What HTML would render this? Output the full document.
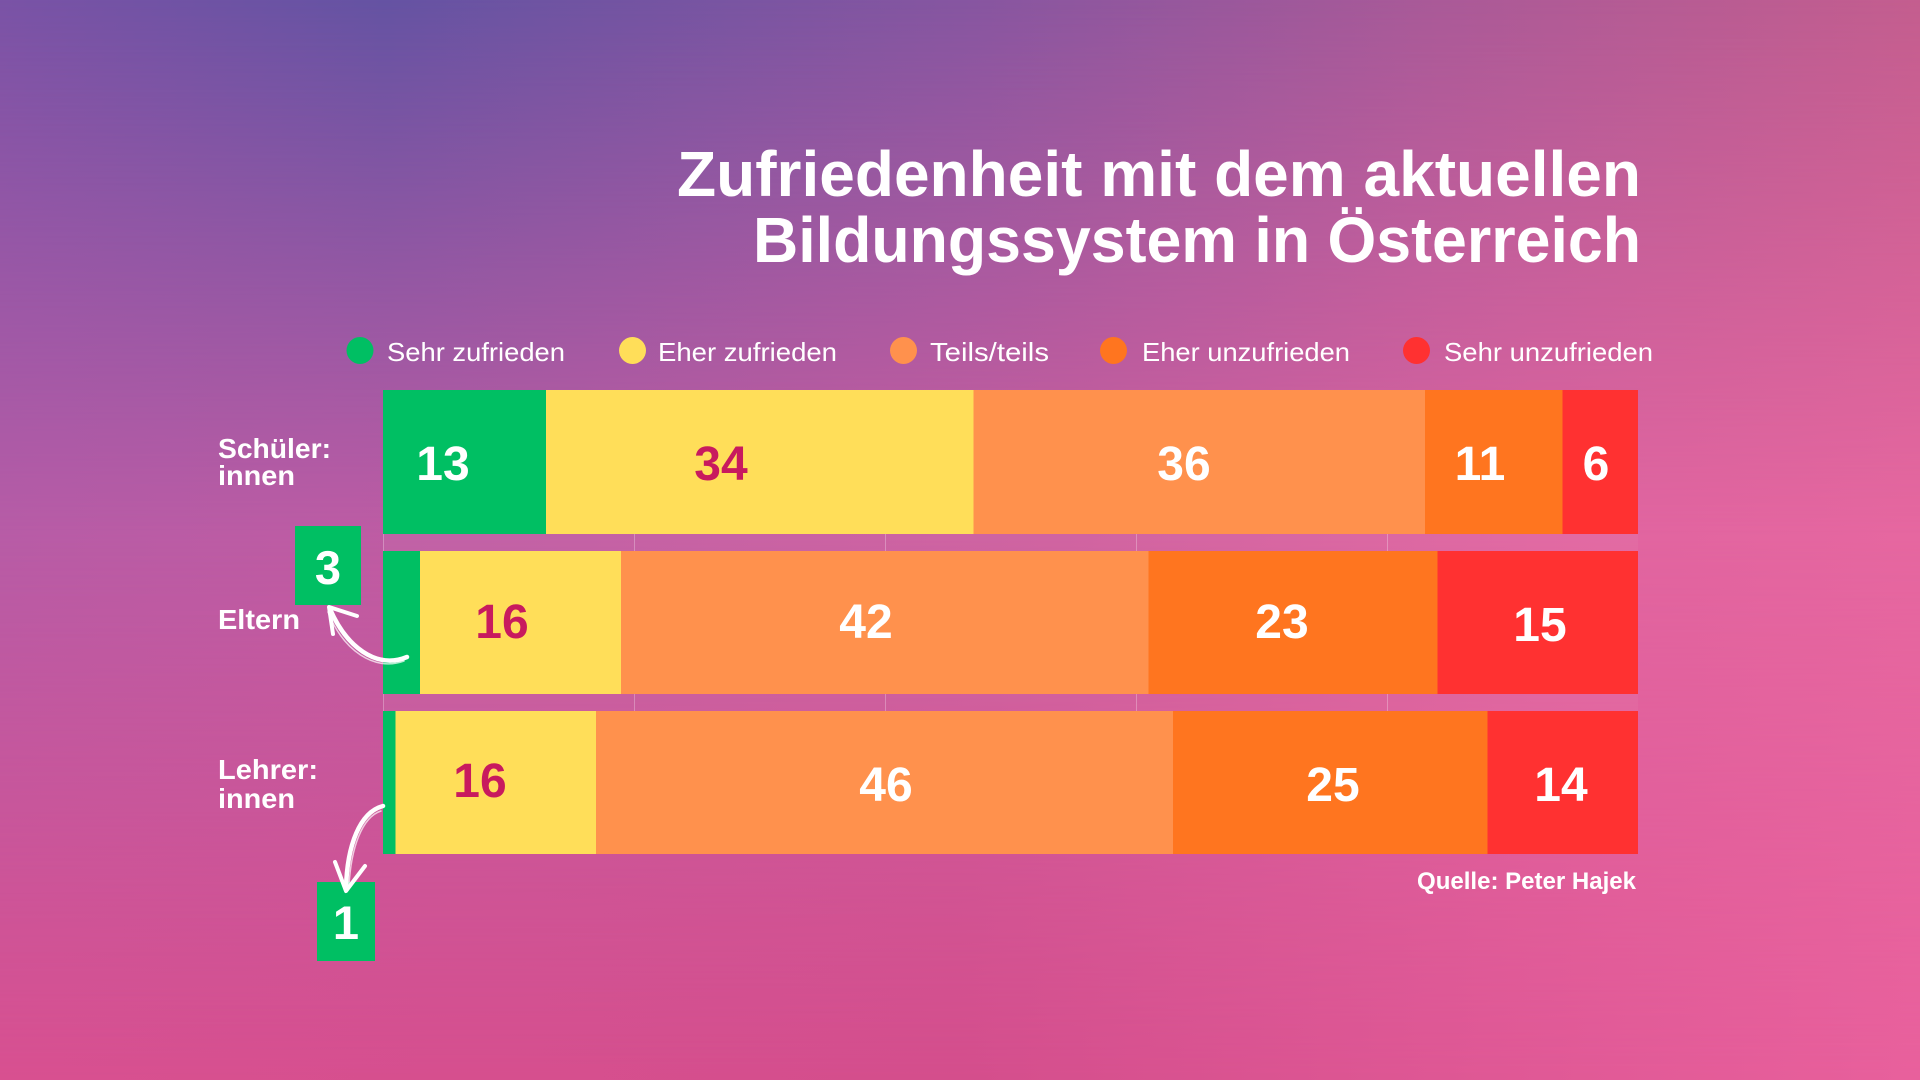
<!DOCTYPE html>
<html>
<head>
<meta charset="utf-8">
<style>
  html, body { margin:0; padding:0; width:1920px; height:1080px; overflow:hidden; }
  body { position:relative; font-family:"Liberation Sans", Arial, sans-serif; }
  .bg { position:absolute; left:0; top:0; width:1920px; height:1080px; }
  .bg1 { background: linear-gradient(90deg, #7a53a6 0%, #6553a3 20%, #8656a1 50%, #aa5a98 75%, #c45e8f 100%); }
  .bg2 { background: linear-gradient(90deg, #b85ca6 0%, #c25ca2 30%, #cf5e9e 55%, #e064a0 80%, #e667a0 100%);
         -webkit-mask-image: linear-gradient(180deg, transparent 0%, #000 50%, #000 100%);
         mask-image: linear-gradient(180deg, transparent 0%, #000 50%, #000 100%); }
  .bg3 { background: linear-gradient(90deg, #d85090 0%, #d44e8c 50%, #e8609c 100%);
         -webkit-mask-image: linear-gradient(180deg, transparent 50%, #000 100%);
         mask-image: linear-gradient(180deg, transparent 50%, #000 100%); }
  svg { position:absolute; left:0; top:0; }
  text { font-family:"Liberation Sans", Arial, sans-serif; }
</style>
</head>
<body>
<div class="bg bg1"></div>
<div class="bg bg2"></div>
<div class="bg bg3"></div>
<svg width="1920" height="1080" viewBox="0 0 1920 1080" xmlns="http://www.w3.org/2000/svg">
  <!-- Title -->
  <g fill="#ffffff" font-weight="bold" font-size="64">
    <text x="1641" y="196" text-anchor="end" textLength="964" lengthAdjust="spacingAndGlyphs">Zufriedenheit mit dem aktuellen</text>
    <text x="1641" y="262" text-anchor="end" textLength="888" lengthAdjust="spacingAndGlyphs">Bildungssystem in Österreich</text>
  </g>

  <!-- Legend -->
  <g>
    <circle cx="360" cy="350.5" r="13.5" fill="#00bf63"/>
    <circle cx="632.5" cy="350.5" r="13.5" fill="#ffde59"/>
    <circle cx="903.5" cy="350.5" r="13.5" fill="#ff914d"/>
    <circle cx="1113.5" cy="350.5" r="13.5" fill="#ff751f"/>
    <circle cx="1416.5" cy="350.5" r="13.5" fill="#ff3131"/>
  </g>
  <g fill="#ffffff" font-size="26">
    <text x="387" y="361" textLength="178" lengthAdjust="spacingAndGlyphs">Sehr zufrieden</text>
    <text x="658" y="361" textLength="179" lengthAdjust="spacingAndGlyphs">Eher zufrieden</text>
    <text x="930" y="361" textLength="119" lengthAdjust="spacingAndGlyphs">Teils/teils</text>
    <text x="1142" y="361" textLength="208" lengthAdjust="spacingAndGlyphs">Eher unzufrieden</text>
    <text x="1444" y="361" textLength="209" lengthAdjust="spacingAndGlyphs">Sehr unzufrieden</text>
  </g>

  <!-- plot area tint -->
  <rect x="383" y="390" width="1255" height="464" fill="#ffffff" fill-opacity="0.04"/>

  <!-- gridlines -->
  <g stroke="#ffffff" stroke-opacity="0.28" stroke-width="1">
    <line x1="383.5" y1="390" x2="383.5" y2="854"/>
    <line x1="634.5" y1="390" x2="634.5" y2="854"/>
    <line x1="885.5" y1="390" x2="885.5" y2="854"/>
    <line x1="1136.5" y1="390" x2="1136.5" y2="854"/>
    <line x1="1387.5" y1="390" x2="1387.5" y2="854"/>
  </g>

  <!-- Row 1: Schüler:innen -->
  <rect x="383" y="390" width="163" height="144" fill="#00bf63"/>
  <rect x="546" y="390" width="427.5" height="144" fill="#ffde59"/>
  <rect x="973.5" y="390" width="451.5" height="144" fill="#ff914d"/>
  <rect x="1425" y="390" width="137.5" height="144" fill="#ff751f"/>
  <rect x="1562.5" y="390" width="75.5" height="144" fill="#ff3131"/>

  <!-- Row 2: Eltern -->
  <rect x="383" y="551" width="37" height="143" fill="#00bf63"/>
  <rect x="420" y="551" width="201" height="143" fill="#ffde59"/>
  <rect x="621" y="551" width="527.5" height="143" fill="#ff914d"/>
  <rect x="1148.5" y="551" width="289" height="143" fill="#ff751f"/>
  <rect x="1437.5" y="551" width="200.5" height="143" fill="#ff3131"/>

  <!-- Row 3: Lehrer:innen -->
  <rect x="383" y="711" width="12.5" height="143" fill="#00bf63"/>
  <rect x="395.5" y="711" width="200.5" height="143" fill="#ffde59"/>
  <rect x="596" y="711" width="577" height="143" fill="#ff914d"/>
  <rect x="1173" y="711" width="314.5" height="143" fill="#ff751f"/>
  <rect x="1487.5" y="711" width="150.5" height="143" fill="#ff3131"/>

  <!-- Bar value labels -->
  <g font-weight="bold" font-size="48" text-anchor="middle">
    <text x="443" y="480" fill="#ffffff">13</text>
    <text x="721" y="480" fill="#c81a5e">34</text>
    <text x="1184" y="480" fill="#ffffff">36</text>
    <text x="1480" y="480" fill="#ffffff">11</text>
    <text x="1596" y="480" fill="#ffffff">6</text>

    <text x="502" y="638" fill="#c81a5e">16</text>
    <text x="866" y="638" fill="#ffffff">42</text>
    <text x="1282" y="638" fill="#ffffff">23</text>
    <text x="1540" y="641" fill="#ffffff">15</text>

    <text x="480" y="797" fill="#c81a5e">16</text>
    <text x="886" y="801" fill="#ffffff">46</text>
    <text x="1333" y="801" fill="#ffffff">25</text>
    <text x="1561" y="801" fill="#ffffff">14</text>
  </g>

  <!-- Row labels -->
  <g fill="#ffffff" font-weight="bold" font-size="28">
    <text x="218" y="458" textLength="113" lengthAdjust="spacingAndGlyphs">Schüler:</text>
    <text x="218" y="485" textLength="77" lengthAdjust="spacingAndGlyphs">innen</text>
    <text x="218" y="629" textLength="82" lengthAdjust="spacingAndGlyphs">Eltern</text>
    <text x="218" y="779" textLength="100" lengthAdjust="spacingAndGlyphs">Lehrer:</text>
    <text x="218" y="808" textLength="77" lengthAdjust="spacingAndGlyphs">innen</text>
  </g>

  <!-- Callout boxes -->
  <rect x="295" y="526" width="66" height="79" fill="#00bf63"/>
  <text x="328" y="584" fill="#ffffff" font-weight="bold" font-size="47" text-anchor="middle">3</text>
  <rect x="317" y="882" width="58" height="79" fill="#00bf63"/>
  <text x="346" y="939" fill="#ffffff" font-weight="bold" font-size="47" text-anchor="middle">1</text>

  <!-- Arrows -->
  <g fill="none" stroke="#ffffff" stroke-linecap="round" stroke-linejoin="round">
    <path d="M407 657 C376 670 346 646 330 609" stroke-width="4.5"/>
    <path d="M404 661 C374 672 343 650 328 612" stroke-width="1.5" stroke-opacity="0.7"/>
    <path d="M357 616 L329 607 L333 634" stroke-width="4"/>

    <path d="M383 806 C360 812 347 845 346 889" stroke-width="4.5"/>
    <path d="M381 811 C362 817 351 848 349 886" stroke-width="1.5" stroke-opacity="0.7"/>
    <path d="M335 862 L346 891 L365 866" stroke-width="4"/>
  </g>

  <!-- Source -->
  <text x="1636" y="889" fill="#ffffff" font-weight="bold" font-size="24" text-anchor="end" textLength="219" lengthAdjust="spacingAndGlyphs">Quelle: Peter Hajek</text>
</svg>
</body>
</html>
